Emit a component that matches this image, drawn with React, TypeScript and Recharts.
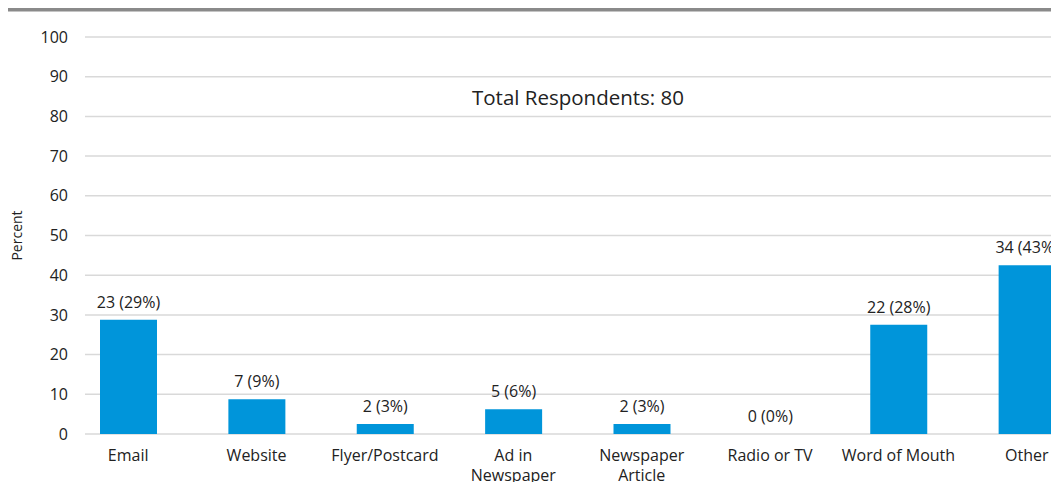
import React from "react";
import { BarChart, Bar, XAxis, YAxis, CartesianGrid, LabelList } from "recharts";

const categories = [
  "Email",
  "Website",
  "Flyer/Postcard",
  "Ad in\nNewspaper",
  "Newspaper\nArticle",
  "Radio or TV",
  "Word of Mouth",
  "Other",
];
const counts = [23, 7, 2, 5, 2, 0, 22, 34];
const percents = [28.75, 8.75, 2.5, 6.25, 2.5, 0, 27.5, 42.5];
const percentLabels = ["29%", "9%", "3%", "6%", "3%", "0%", "28%", "43%"];
const yTicks = [0, 10, 20, 30, 40, 50, 60, 70, 80, 90, 100];

const data = categories.map((name, i) => ({
  name,
  value: percents[i],
  label: `${counts[i]} (${percentLabels[i]})`,
}));

const FONT = "'Open Sans', Lato, sans-serif";
const TEXT = "#222";

const CategoryTick = (props: any) => {
  const { x, y, payload } = props;
  const lines = String(payload.value).split("\n");
  return (
    <text
      x={x}
      y={y + 19}
      textAnchor="middle"
      fontFamily={FONT}
      fontSize={16}
      fill={TEXT}
    >
      {lines.map((line, i) => (
        <tspan key={i} x={x} dy={i === 0 ? 0 : 20}>
          {line}
        </tspan>
      ))}
    </text>
  );
};

const BarValueLabel = (props: any) => {
  const { x, y, width, value } = props;
  return (
    <text
      x={Number(x) + Number(width) / 2}
      y={Number(y) - 12}
      textAnchor="middle"
      fontFamily={FONT}
      fontSize={16}
      fill={TEXT}
    >
      {value}
    </text>
  );
};

export default function App() {
  return (
    <div
      style={{
        position: "relative",
        margin: "-8px 0 0 -8px",
        width: 1059,
        height: 482,
        overflow: "hidden",
        background: "#fff",
      }}
    >
      <div
        style={{
          position: "absolute",
          left: 8,
          top: 8,
          width: 1051,
          height: 3,
          background: "#8a8a8a",
          borderBottom: "1px solid #c4c4c4",
        }}
      />
      <div
        style={{
          position: "absolute",
          left: 0,
          width: 1156,
          top: 83,
          textAlign: "center",
          fontFamily: FONT,
          fontSize: 20.5,
          color: TEXT,
        }}
      >
        Total Respondents: 80
      </div>
      <BarChart
        width={1100}
        height={482}
        data={data}
        margin={{ top: 37, right: 9, left: 0, bottom: 8 }}
      >
        <CartesianGrid vertical={false} stroke="#d9d9d9" strokeWidth={1.5} />
        <XAxis
          dataKey="name"
          interval={0}
          height={40}
          tickLine={false}
          axisLine={false}
          padding={{ left: -21, right: 0 }}
          tick={<CategoryTick />}
        />
        <YAxis
          width={85}
          domain={[0, 100]}
          ticks={yTicks}
          interval={0}
          tickLine={false}
          axisLine={false}
          tickMargin={11}
          tick={{ fontFamily: FONT, fontSize: 16, fill: TEXT }}
          label={{
            value: "Percent",
            angle: -90,
            position: "insideLeft",
            offset: 17,
            style: {
              textAnchor: "middle",
              fontFamily: FONT,
              fontSize: 14,
              fill: TEXT,
            },
          }}
        />
        <Bar
          dataKey="value"
          fill="#0095da"
          barSize={57}
          minPointSize={0.01}
          isAnimationActive={false}
        >
          <LabelList dataKey="label" content={<BarValueLabel />} />
        </Bar>
      </BarChart>
    </div>
  );
}
